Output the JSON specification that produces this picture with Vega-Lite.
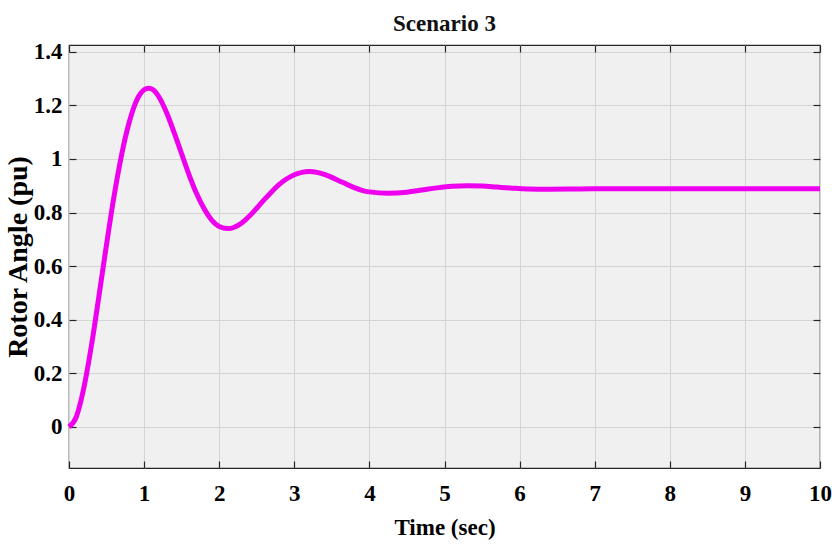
{
  "$schema": "https://vega.github.io/schema/vega-lite/v6.json",
  "autosize": "none",
  "width": 751,
  "height": 423,
  "padding": {"left": 69, "top": 45, "right": 12, "bottom": 80},
  "background": "white",
  "title": {"text": "Scenario 3", "font": "Liberation Serif", "fontSize": 23, "fontWeight": "bold", "color": "#111111", "offset": 5},
  "config": {
    "view": {"fill": "#F0F0F0", "stroke": "#262626", "strokeWidth": 1.2},
    "axis": {
      "labelFont": "Liberation Serif", "labelFontWeight": "bold", "labelFontSize": 23, "labelColor": "#000000",
      "titleFont": "Liberation Serif", "titleFontWeight": "bold", "titleColor": "#000000",
      "gridColor": "#D4D4D4", "gridWidth": 1, "domain": false,
      "tickColor": "#262626", "tickWidth": 1.2, "tickSize": -7
    }
  },
  "data": {"values": [
    {"t": 0, "v": 0}, {"t": 0.1, "v": 0.040}, {"t": 0.2, "v": 0.149}, {"t": 0.3, "v": 0.306},
    {"t": 0.4, "v": 0.491}, {"t": 0.5, "v": 0.681}, {"t": 0.6, "v": 0.861}, {"t": 0.7, "v": 1.015},
    {"t": 0.8, "v": 1.135}, {"t": 0.9, "v": 1.218}, {"t": 1.0, "v": 1.258}, {"t": 1.06, "v": 1.264},
    {"t": 1.12, "v": 1.258}, {"t": 1.2, "v": 1.230}, {"t": 1.3, "v": 1.172}, {"t": 1.4, "v": 1.098},
    {"t": 1.5, "v": 1.019}, {"t": 1.6, "v": 0.940}, {"t": 1.7, "v": 0.870}, {"t": 1.8, "v": 0.814},
    {"t": 1.9, "v": 0.772}, {"t": 2.0, "v": 0.748}, {"t": 2.12, "v": 0.740}, {"t": 2.2, "v": 0.745},
    {"t": 2.3, "v": 0.761}, {"t": 2.4, "v": 0.786}, {"t": 2.5, "v": 0.816}, {"t": 2.6, "v": 0.848},
    {"t": 2.7, "v": 0.878}, {"t": 2.8, "v": 0.905}, {"t": 2.9, "v": 0.926}, {"t": 3.0, "v": 0.941},
    {"t": 3.1, "v": 0.950}, {"t": 3.2, "v": 0.953}, {"t": 3.3, "v": 0.950}, {"t": 3.4, "v": 0.942},
    {"t": 3.5, "v": 0.931}, {"t": 3.6, "v": 0.918}, {"t": 3.7, "v": 0.905}, {"t": 3.8, "v": 0.893},
    {"t": 3.9, "v": 0.883}, {"t": 4.0, "v": 0.877}, {"t": 4.25, "v": 0.872}, {"t": 4.5, "v": 0.876},
    {"t": 4.7, "v": 0.884}, {"t": 4.9, "v": 0.892}, {"t": 5.1, "v": 0.898}, {"t": 5.3, "v": 0.900},
    {"t": 5.5, "v": 0.899}, {"t": 5.7, "v": 0.895}, {"t": 5.9, "v": 0.891}, {"t": 6.1, "v": 0.888},
    {"t": 6.4, "v": 0.887}, {"t": 6.8, "v": 0.888}, {"t": 7.2, "v": 0.889}, {"t": 7.6, "v": 0.889},
    {"t": 8.0, "v": 0.889}, {"t": 9.0, "v": 0.889}, {"t": 10.0, "v": 0.889}
  ]},
  "layer": [
    {
      "mark": {"type": "line", "color": "#EE00EE", "strokeWidth": 5, "interpolate": "monotone"},
      "encoding": {
        "x": {"field": "t", "type": "quantitative", "scale": {"domain": [0, 10], "nice": false, "zero": false},
              "axis": {"orient": "bottom", "values": [0,1,2,3,4,5,6,7,8,9,10], "title": "Time (sec)", "titleFontSize": 23, "titlePadding": 11, "labelPadding": 21, "labelFlush": false}},
        "y": {"field": "v", "type": "quantitative", "scale": {"domain": [-0.153, 1.425], "nice": false, "zero": false},
              "axis": {"orient": "left", "values": [0,0.2,0.4,0.6,0.8,1,1.2,1.4], "format": "~g", "title": "Rotor Angle (pu)", "titleFontSize": 28, "titlePadding": 1, "labelPadding": 14}}
      }
    },
    {
      "mark": {"type": "line", "strokeOpacity": 0},
      "encoding": {
        "x": {"field": "t", "type": "quantitative", "scale": {"domain": [0, 10], "nice": false, "zero": false},
              "axis": {"orient": "top", "values": [0,1,2,3,4,5,6,7,8,9,10], "labels": false, "grid": false, "title": null}},
        "y": {"field": "v", "type": "quantitative", "scale": {"domain": [-0.153, 1.425], "nice": false, "zero": false},
              "axis": {"orient": "right", "values": [0,0.2,0.4,0.6,0.8,1,1.2,1.4], "labels": false, "grid": false, "title": null}}
      }
    }
  ],
  "resolve": {"axis": {"x": "independent", "y": "independent"}}
}
